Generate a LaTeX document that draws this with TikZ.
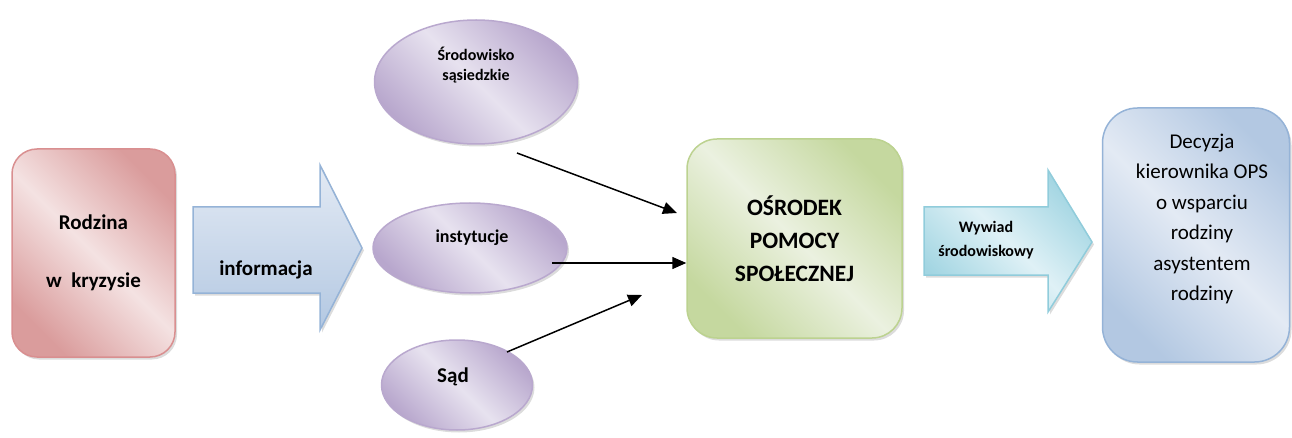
\documentclass[tikz,border=0pt]{standalone}
\usepackage{fontspec}
\setmainfont{Carlito}
\usetikzlibrary{arrows.meta,calc}
\usetikzlibrary{positioning,shadows}
\usetikzlibrary{shapes}

\definecolor{redA}{HTML}{DA9C9C}
\definecolor{redB}{HTML}{F4E2E2}
\definecolor{redL}{HTML}{D98F90}
\definecolor{blueA}{HTML}{B3C8E2}
\definecolor{blueB}{HTML}{E3EAF4}
\definecolor{blueL}{HTML}{95B3D7}
\definecolor{purA}{HTML}{B8A7CD}
\definecolor{purB}{HTML}{E7E2EF}
\definecolor{purL}{HTML}{B9A8CE}
\definecolor{greA}{HTML}{C5D89F}
\definecolor{greB}{HTML}{EBF1E0}
\definecolor{greL}{HTML}{BCD290}
\definecolor{tealA}{HTML}{A2D5E2}
\definecolor{tealB}{HTML}{DFF1F6}
\definecolor{tealL}{HTML}{90CCDB}

\newcommand{\bigbold}{\fontsize{21}{24}\selectfont\bfseries}
\newcommand{\smallbold}{\fontsize{16}{20}\selectfont\bfseries}
\newcommand{\opsfont}{\fontsize{23.5}{33}\selectfont\bfseries}
\newcommand{\decfont}{\fontsize{21}{30.4}\selectfont}

\tikzset{
  shadowed/.style={drop shadow={opacity=0.28,shadow xshift=2pt,shadow yshift=-2.5pt}},
  redbox/.style={draw=redL,line width=1.5pt,rounded corners=25pt,align=center,
    left color=redA,right color=redA,middle color=redB,shading angle=135,shadowed},
  grebox/.style={draw=greL,line width=1.5pt,rounded corners=30pt,align=center,
    left color=greA,right color=greA,middle color=greB,shading angle=135,shadowed},
  bluebox/.style={draw=blueL,line width=1.5pt,rounded corners=35pt,
    left color=blueA,right color=blueA,middle color=blueB,shading angle=135,shadowed},
  ellnode/.style={ellipse,draw=purL,line width=1.5pt,
    left color=purA,right color=purA,middle color=purB,shading angle=135,shadowed},
  infoarrow/.style={draw=blueL,line width=1.5pt,
    top color=blueB,bottom color=blueA,shadowed},
  wywarrow/.style={draw=tealL,line width=1.5pt,
    left color=tealA,right color=tealA,middle color=tealB,shading angle=135,shadowed},
  conn/.style={-{Triangle[length=14pt,width=12pt]},line width=1.5pt}
}

\begin{document}
\begin{tikzpicture}[x=1pt,y=-1pt]
\useasboundingbox (0,0) rectangle (1292,438);

% family
\draw (93.5,253) node[redbox,font=\bigbold,minimum width=163,minimum height=208] (rodz) {Rodzina\\[34pt]w\ \ kryzysie};

% information
\draw[infoarrow] (193,207) -- (320,207) -- (320,165) -- (362,248) -- (320,330) -- (320,293) -- (193,293) -- cycle;
\draw (266,270) node[font=\bigbold] (info) {informacja};

% sources
\draw (476,82) node[ellnode,minimum width=203,minimum height=124] (srod) {};
\draw (476,65.5) node[align=center,font=\smallbold] (srodtxt) {Środowisko\\sąsiedzkie};
\draw (470,248) node[ellnode,minimum width=194,minimum height=90] (inst) {};
\draw (472,238) node[font=\fontsize{18}{22}\selectfont\bfseries] (insttxt) {instytucje};
\draw (457,385) node[ellnode,minimum width=151,minimum height=90] (sad) {};
\draw (453,377) node[font=\bigbold] (sadtxt) {Sąd};

% ops
\draw (794.5,238.5) node[grebox,font=\opsfont,minimum width=215,minimum height=199] (ops) {OŚRODEK\\POMOCY\\SPOŁECZNEJ};

% interview
\draw[wywarrow] (924,207) -- (1048,207) -- (1048,170) -- (1092,242) -- (1048,312) -- (1048,275) -- (924,275) -- cycle;
\draw (986,240) node[align=center,font=\smallbold] (wyw) {Wywiad\\[4pt]środowiskowy};

% decision
\draw (1196,235) node[bluebox,minimum width=187,minimum height=254] (dec) {};
\draw (1202,219) node[align=center,font=\decfont] (dectxt) {Decyzja\\kierownika OPS\\o wsparciu\\rodziny\\asystentem\\rodziny};

% connectors
\coordinate (a1) at (517,153);
\coordinate (b1) at (677,213);
\coordinate (a2) at (552,263);
\coordinate (a3) at (507,352);
\coordinate (b3) at (642,295);
\draw[conn] (a1) -- (b1);
\draw[conn] (a2) -- (a2 -| ops.west);
\draw[conn] (a3) -- (b3);
\end{tikzpicture}
\end{document}
